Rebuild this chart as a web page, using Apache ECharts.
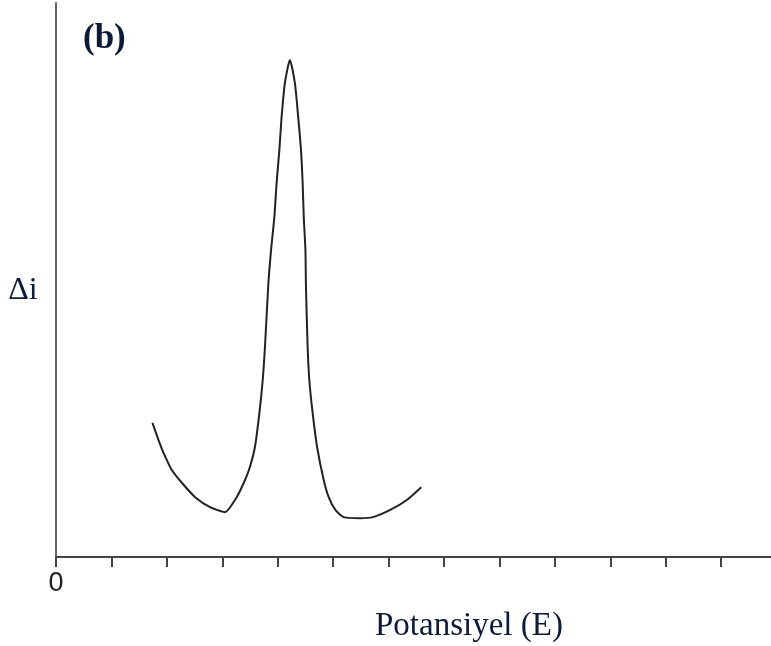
<!DOCTYPE html>
<html>
<head>
<meta charset="utf-8">
<script src="https://cdn.jsdelivr.net/npm/echarts@6/dist/echarts.min.js"></script>
<style>
  html, body { margin: 0; padding: 0; background: #fff; }
  #chart { width: 771px; height: 646px; }
</style>
</head>
<body>
<div id="chart"></div>
<script>
// potential (x) vs current difference (y)
var potential = [1.74, 1.85, 1.94, 2.09, 2.27, 2.51, 2.78, 3.05, 3.26, 3.41, 3.50, 3.59, 3.67, 3.73, 3.77, 3.83, 3.88,
                 3.94, 3.98, 4.03, 4.07, 4.13, 4.22, 4.31, 4.37, 4.42, 4.45, 4.47, 4.50, 4.51, 4.54, 4.57, 4.63,
                 4.71, 4.83, 4.92, 5.04, 5.19, 5.49, 5.72, 6.03, 6.33, 6.59];
var deltaI = [2.42, 2.11, 1.88, 1.57, 1.34, 1.08, 0.90, 0.81, 1.08, 1.39, 1.63, 1.99, 2.60, 3.20, 3.79, 4.91, 5.54,
              6.14, 6.75, 7.35, 7.94, 8.56, 8.97, 8.56, 7.94, 7.35, 6.75, 6.14, 5.54, 4.87, 3.79, 3.20, 2.60,
              1.99, 1.39, 1.08, 0.85, 0.72, 0.70, 0.72, 0.85, 1.03, 1.26];
var xTicks = [0, 1, 2, 3, 4, 5, 6, 7, 8, 9, 10, 11, 12];
var xLabels = [0];

var textColor = "#0d1b3a";
var chart = echarts.init(document.getElementById("chart"));

var option = {
  animation: false,
  grid: {
    left: 56,
    right: 0,
    top: 3,
    bottom: 89,
    outerBoundsMode: "none"
  },
  xAxis: {
    type: "value",
    min: 0,
    max: 12.9,
    splitLine: { show: false },
    axisLine: {
      lineStyle: { color: "#444", width: 2 }
    },
    axisTick: {
      customValues: xTicks,
      length: 10,
      lineStyle: { color: "#444", width: 2 }
    },
    axisLabel: {
      customValues: xLabels,
      color: "#222",
      fontFamily: "Liberation Sans",
      fontSize: 27,
      margin: 13
    }
  },
  yAxis: {
    type: "value",
    min: 0,
    max: 10,
    splitLine: { show: false },
    axisTick: { show: false },
    axisLabel: { show: false },
    axisLine: {
      show: true,
      lineStyle: { color: "#666", width: 2 }
    }
  },
  graphic: [
    {
      type: "text",
      left: 83,
      top: 21,
      style: {
        text: "(b)",
        fill: textColor,
        font: "bold 35px 'Liberation Serif'"
      }
    },
    {
      type: "text",
      x: 23,
      y: 291,
      style: {
        text: "Δi",
        fill: textColor,
        align: "center",
        verticalAlign: "middle",
        font: "32px 'Liberation Serif'"
      }
    },
    {
      type: "text",
      left: 375,
      top: 610,
      style: {
        text: "Potansiyel (E)",
        fill: textColor,
        font: "33px 'Liberation Serif'"
      }
    }
  ],
  series: [
    {
      type: "line",
      data: potential.map(function (x, i) { return [x, deltaI[i]]; }),
      smooth: 0.2,
      symbol: "none",
      lineStyle: { color: "#222", width: 2 }
    }
  ]
};

chart.setOption(option);
</script>
</body>
</html>
